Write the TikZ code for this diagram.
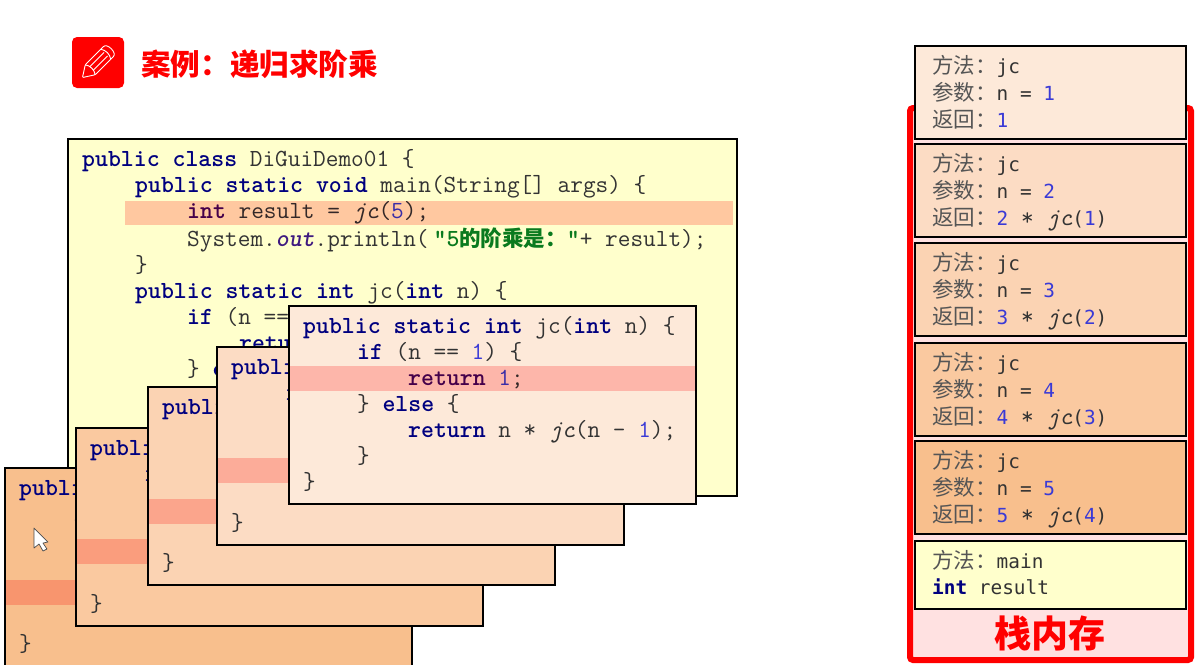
\documentclass[tikz,border=0pt]{standalone}
\usepackage{fontspec}
\usepackage{xcolor}
\newfontfamily\stackfont{DejaVu Sans Mono}
\newfontfamily\cjkfont{Noto Sans CJK SC}

\definecolor{kwblue}{HTML}{00007F}
\definecolor{kwpurple}{HTML}{45005F}
\definecolor{numblue}{HTML}{3A3AD6}
\definecolor{plaingray}{HTML}{333333}
\definecolor{cjkgray}{HTML}{555555}
\definecolor{strgreen}{HTML}{0A7A1E}
\definecolor{fieldpurple}{HTML}{3F1A80}
\definecolor{mainyellow}{HTML}{FFFFCC}
\definecolor{frameA}{HTML}{FDE9D9}
\definecolor{frameB}{HTML}{FCDCC4}
\definecolor{frameC}{HTML}{FBD3B3}
\definecolor{frameD}{HTML}{FAC9A0}
\definecolor{frameE}{HTML}{F8BF8D}
\definecolor{stackpink}{HTML}{FFE1E1}
\definecolor{barcol}{HTML}{FFC8C8}

\newcommand{\kw}[1]{\textcolor{kwblue}{\textbf{#1}}}
\newcommand{\kwbar}[1]{\textcolor{kwpurple}{\textbf{#1}}}
\newcommand{\num}[1]{\textcolor{numblue}{#1}}
\newcommand{\cjk}[1]{{\cjkfont\fontsize{21.5}{25.8}\selectfont\textcolor{cjkgray}{#1}}}
\newcommand{\jcret}[2]{\num{#1}{\ttfamily\fontsize{24.6}{25.8}\selectfont{} * \textit{jc}}(\num{#2})}
\newcommand{\methodbody}{%
  \kw{public static int} jc(\kw{int} n) \{\strut\\
  \hspace*{54pt}\kw{if} (n == \num{1}) \{\strut\\
  \hspace*{105pt}\kwbar{return} \num{1};\strut\\
  \hspace*{54pt}\} \kw{else} \{\strut\\
  \hspace*{105pt}\kw{return} n * \textit{jc}(n - \num{1});\strut\\
  \hspace*{54pt}\}\strut\\
  \}\strut}
\newcommand{\coveredbody}{%
  \kw{publi}\strut\\
  \hspace*{54pt}\kw{i}\strut\\
  \strut\\ \strut\\ \strut\\ \strut\\
  \}\strut}

\tikzset{
  codebox/.style={draw=black,line width=2.8pt,rectangle,anchor=north west,inner sep=0pt,outer sep=0pt},
  codetext/.style={anchor=north west,inner sep=0pt,align=left,text=plaingray,
    font=\ttfamily\fontsize{24.6}{26}\selectfont},
  hilite/.style={anchor=north west,inner sep=0pt,outer sep=0pt,fill=barcol,blend mode=multiply,minimum height=24.5pt},
  stacktext/.style={anchor=north west,inner sep=0pt,align=left,text=plaingray,
    font=\stackfont\fontsize{19.4}{25.8}\selectfont},
}

\begin{document}
\begin{tikzpicture}[x=1pt,y=-1pt]
  \useasboundingbox (0,0) rectangle (1198,664);
  \clip (0,0) rectangle (1198,664);

  % title
  \fill[red,rounded corners=5pt] (72,37) rectangle (124,88);
  \begin{scope}[shift={(98,62)},rotate=45,draw=white,line width=0.9pt,line join=round]
    \draw[rounded corners=1pt] (-22,0) -- (-11,-7) -- (14,-7) .. controls (20,-7) and (20,7) .. (14,7) -- (-11,7) -- cycle;
    \draw (-11,-7) .. controls (-8,-3) and (-8,3) .. (-11,7);
    \draw (11,-7) .. controls (14,-3) and (14,3) .. (11,7);
    \draw (-9,-2.5) -- (11,-2.5);
    \draw (-9,2.5) -- (11,2.5);
  \end{scope}
  \node[anchor=west,inner sep=0pt,text=red] (title) at (141,64)
    {\cjkfont\fontsize{29.6}{30}\selectfont\bfseries 案例：递归求阶乘};

  % main method
  \node[codebox,fill=mainyellow,minimum width=669pt,minimum height=357pt] (mainbox) at (68,139) {};
  \node[codetext,at={([shift={(14,9.5)}]mainbox.north west)}] (maincode) {%
    \kw{public class} DiGuiDemo01 \{\strut\\
    \hspace*{53pt}\kw{public static void} main(String[] args) \{\strut\\
    \hspace*{105pt}\kwbar{int} result = \textit{jc}(\num{5});\strut\\
    \hspace*{105pt}System.\textcolor{fieldpurple}{\textbf{\textit{out}}}.println(\hspace{5pt}\textcolor{strgreen}{\textbf{"5{\cjkfont\fontsize{21.5}{26}\selectfont 的阶乘是：}"}}+ result);\strut\\
    \hspace*{53pt}\}\strut\\
    \hspace*{53pt}\kw{public static int} jc(\kw{int} n) \{\strut\\
    \hspace*{105pt}\kw{if} (n ==\strut\\
    \hspace*{157pt}\kw{retu}\strut\\
    \hspace*{105pt}\} \kw{e}\strut};
  \node[hilite,minimum width=608pt] (mainbar) at (125,200.5) {};

  % recursive calls
  \foreach \n/\x/\y/\c/\b/\t in {E/5/468/frameE/112/\coveredbody,D/76/428/frameD/111/\coveredbody,
      C/148/387/frameC/112/\coveredbody,B/217/347/frameB/111/\coveredbody,A/289/306/frameA/60/\methodbody} {
    \node[codebox,fill=\c,minimum width=407pt,minimum height=198pt] (frame\n) at (\x,\y) {};
    \node[codetext,at={([shift={(14,9.5)}]frame\n.north west)}] (code\n) {\t};
    \node[hilite,minimum width=405pt,at={([shift={(1,\b)}]frame\n.north west)}] (bar\n) {};
  }

  % stack memory
  \draw[red,fill=stackpink,line width=6pt,rounded corners=3pt] (910,108) rectangle (1191,660);
  \foreach \n/\y/\c/\a/\r in {
      A/46/frameA/1/{\num{1}},
      B/144/frameB/2/{\jcret{2}{1}},
      C/243/frameC/3/{\jcret{3}{2}},
      D/343/frameD/4/{\jcret{4}{3}},
      E/441/frameE/5/{\jcret{5}{4}}} {
    \node[codebox,fill=\c,minimum width=271pt,minimum height=93pt] (stack\n) at (915,\y) {};
    \node[stacktext,at={([shift={(17,9.5)}]stack\n.north west)}] (stacktext\n)
      {\cjk{方法：}jc\strut\\ \cjk{参数：}n = \num{\a}\strut\\[1pt] \cjk{返回：}\r\strut};
  }
  \node[codebox,fill=mainyellow,minimum width=271pt,minimum height=68pt] (stackmain) at (915,541) {};
  \node[stacktext,at={([shift={(17,9.5)}]stackmain.north west)}] (stackmaintext)
    {\cjk{方法：}main\strut\\ \kw{int} result\strut};
  \node[text=red,inner sep=0pt] (stacklabel) at (1050,633)
    {\cjkfont\fontsize{37}{38}\selectfont\bfseries 栈内存};

  % mouse pointer
  \draw[fill=white,draw=black!70,line width=0.7pt,line join=round]
    (34,528) -- (34,548) -- (39,544) -- (43,551) -- (47,549) -- (43,543) -- (48,542) -- cycle;
\end{tikzpicture}
\end{document}
